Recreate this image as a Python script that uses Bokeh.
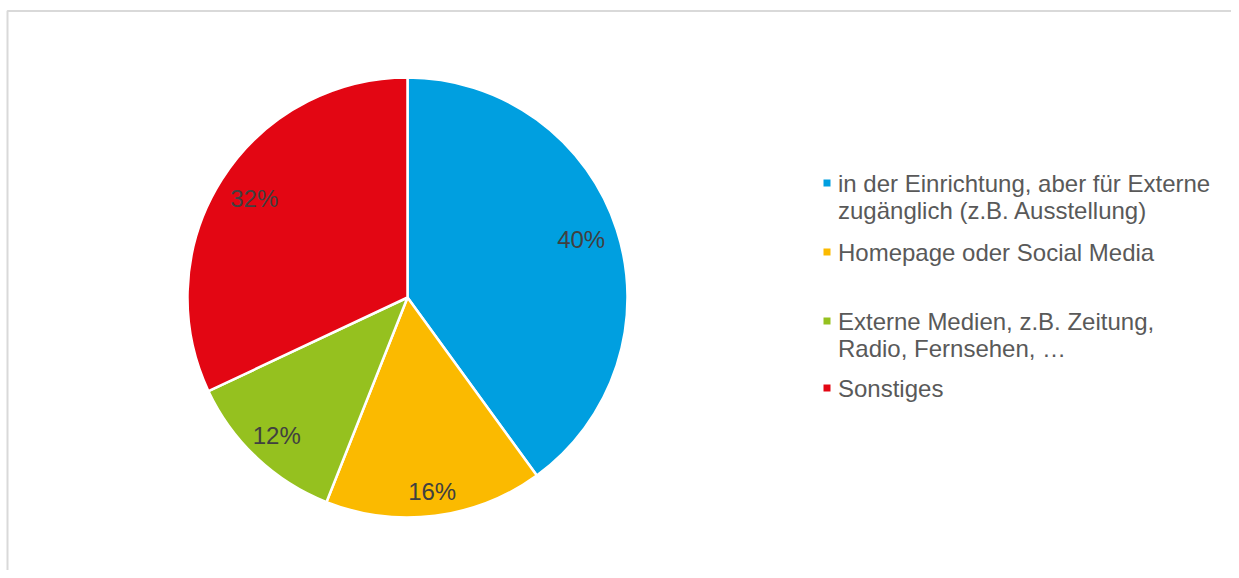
import math
from bokeh.plotting import figure
from bokeh.models import ColumnDataSource, Range1d
from bokeh.core.properties import value
from bokeh.embed import file_html
from bokeh.resources import INLINE

# ---- data ----
categories = [
    "in der Einrichtung, aber für Externe\nzugänglich (z.B. Ausstellung)",
    "Homepage oder Social Media",
    "Externe Medien, z.B. Zeitung,\nRadio, Fernsehen, …",
    "Sonstiges",
]
shares = [40, 16, 12, 32]
labels = ["40%", "16%", "12%", "32%"]
colors = ["#009FE0", "#FBBA00", "#95C11F", "#E30613"]

# ---- layout (page pixel coordinates) ----
W, H = 1231, 570
ORIGIN = 0  # where the figure lands on the photographed page
def py(y):  # page pixel y -> data y (upwards)
    return (ORIGIN + H) - y

cx, cy, R = 407, py(297), 220
label_r = [0.83, 0.895, 0.868, 0.825]
legend_baselines = [190, 259, 328, 395]
legend_step = 27
sq_x, text_x = 826.5, 837.5
FONT = "Liberation Sans"
FS = "24px"

p = figure(width=W, height=H, output_backend="svg", toolbar_location=None,
           x_range=Range1d(ORIGIN, ORIGIN + W), y_range=Range1d(py(ORIGIN + H), py(ORIGIN)),
           min_border=0, outline_line_color=None)
p.axis.visible = False
p.grid.visible = False
p.background_fill_color = "white"
p.border_fill_color = "white"

# chart frame (top and left edges visible)
p.line(x=[7, 7, ORIGIN + W], y=[py(ORIGIN + H), py(10.5), py(10.5)],
       line_color="#D9D9D9", line_width=2)

# ---- pie ----
total = sum(shares)
starts, ends, mids = [], [], []
acc = 0
for s in shares:
    a0 = math.pi / 2 - 2 * math.pi * acc / total
    acc += s
    a1 = math.pi / 2 - 2 * math.pi * acc / total
    starts.append(a0)
    ends.append(a1)
    mids.append((a0 + a1) / 2)

src = ColumnDataSource(dict(start=starts, end=ends, color=colors))
p.wedge(x=cx, y=cy, radius=R, start_angle="start", end_angle="end",
        direction="clock", fill_color="color", line_color="white",
        line_width=2.5, source=src)

lx = [cx + R * f * math.cos(m) for f, m in zip(label_r, mids)]
ly = [cy + R * f * math.sin(m) for f, m in zip(label_r, mids)]
p.text(x=lx, y=ly, text=labels, text_align="center", text_baseline="middle",
       text_font=value(FONT), text_font_size=FS, text_color="#404040",
       y_offset=-1.5)

# ---- legend ----
tx, ty, ttxt = [], [], []
for cat, b in zip(categories, legend_baselines):
    for i, line in enumerate(cat.split("\n")):
        tx.append(text_x)
        ty.append(py(b + i * legend_step))
        ttxt.append(line)
p.text(x=tx, y=ty, text=ttxt, text_align="left", text_baseline="alphabetic",
       text_font=value(FONT), text_font_size=FS, text_color="#595959",
       y_offset=-7)

p.scatter(x=[sq_x] * len(categories), y=[py(b - 7.5) for b in legend_baselines],
          marker="square", size=7, fill_color=colors, line_color=None)

open("out.html", "w").write(file_html(p, INLINE))
